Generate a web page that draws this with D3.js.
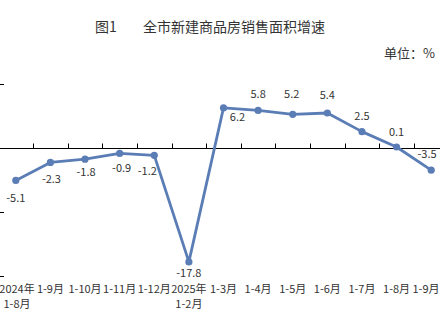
<!DOCTYPE html>
<html lang="zh">
<head>
<meta charset="utf-8">
<script src="https://d3js.org/d3.v7.min.js"></script>
<style>
  body { margin: 0; background: #fff; }
  text { font-family: "Microsoft YaHei", "Noto Sans CJK SC", sans-serif; fill: #333; }
</style>
</head>
<body>
<script>
  // data
  var months = ["2024年\n1-8月", "1-9月", "1-10月", "1-11月", "1-12月", "2025年\n1-2月",
                "1-3月", "1-4月", "1-5月", "1-6月", "1-7月", "1-8月", "1-9月"];
  var growth = [-5.1, -2.3, -1.8, -0.9, -1.2, -17.8, 6.2, 5.8, 5.2, 5.4, 2.5, 0.1, -3.5];
  var yTicks = [-20, -10, 0, 10];

  // label placement: dy from point, dx shift
  var labelDy = [18, 17, 13, 15, 16, 11, 9, -16, -20, -18, -16, -15, -16];
  var labelDx = [0, 1, 1, 2, -7, 0, 14, 0, -1, 0, 0, 0, 1];

  var w = 440, h = 330;
  var svg = d3.select("body").append("svg").attr("width", w).attr("height", h);

  // months repeat (1-8月, 1-9月), so the band scale works on indexes
  var idx = d3.range(months.length);
  var x = d3.scaleBand().domain(idx).range([-1.5, 448.5]);
  var y = d3.scaleLinear().domain([-20, 10]).range([276, 83.5]);
  var cx = i => x(i) + x.bandwidth() / 2;

  // title
  svg.append("text").attr("x", 95).attr("y", 32).style("font-size", "14px").text("图1");
  svg.append("text").attr("x", 143).attr("y", 32).style("font-size", "14px").text("全市新建商品房销售面积增速");
  svg.append("text").attr("x", 435).attr("y", 58).attr("text-anchor", "end")
     .style("font-size", "13px").text("单位：%");

  // y ticks (axis labels cut off)
  svg.selectAll("line.ytick").data(yTicks.filter(d => d !== 0)).join("line")
     .attr("class", "ytick")
     .attr("x1", 0).attr("x2", 4)
     .attr("y1", d => Math.round(y(d)) + 0.5).attr("y2", d => Math.round(y(d)) + 0.5)
     .attr("stroke", "#000").attr("stroke-width", 1);

  // zero axis with band-boundary ticks
  var y0 = Math.round(y(0)) + 0.5;
  svg.append("line").attr("x1", 0).attr("x2", w).attr("y1", y0).attr("y2", y0)
     .attr("stroke", "#000").attr("stroke-width", 1);
  svg.selectAll("line.xtick").data(idx.slice(1)).join("line")
     .attr("class", "xtick")
     .attr("x1", i => Math.round(x(i)) + 0.5).attr("x2", i => Math.round(x(i)) + 0.5)
     .attr("y1", y0).attr("y2", y0 - 5)
     .attr("stroke", "#000").attr("stroke-width", 1);

  // category labels
  svg.selectAll("text.xlab").data(idx).join("text")
     .attr("class", "xlab")
     .attr("text-anchor", "middle")
     .style("font-size", "11px")
     .each(function(i) {
       var t = d3.select(this);
       months[i].split("\n").forEach(function(p, k) {
         t.append("tspan").attr("x", Math.max(Math.min(cx(i), 426), 17)).attr("y", 293 + k * 15).text(p);
       });
     });

  // line
  var pts = idx.map(i => ({i: i, v: growth[i]}));
  var line = d3.line().x(d => cx(d.i)).y(d => y(d.v));
  svg.append("path").datum(pts).attr("d", line)
     .attr("fill", "none").attr("stroke", "#5b7db6").attr("stroke-width", 2.8)
     .attr("stroke-linejoin", "round");
  svg.selectAll("circle").data(pts).join("circle")
     .attr("cx", d => cx(d.i)).attr("cy", d => y(d.v)).attr("r", 3.6)
     .attr("fill", "#5b7db6");

  // value labels
  svg.selectAll("text.vlab").data(pts).join("text")
     .attr("class", "vlab")
     .attr("text-anchor", "middle")
     .attr("x", d => Math.min(cx(d.i) + labelDx[d.i], 427))
     .attr("y", d => y(d.v) + labelDy[d.i] + 4)
     .style("font-size", "11px")
     .text(d => d.v.toFixed(1));
</script>
</body>
</html>
